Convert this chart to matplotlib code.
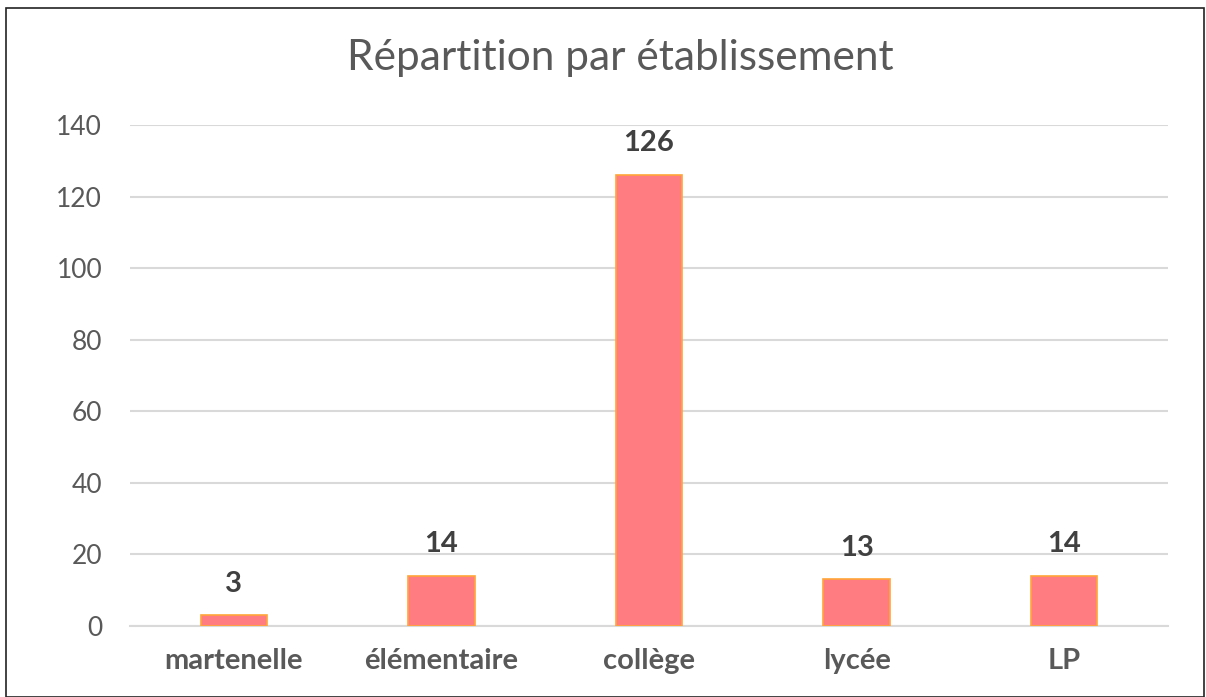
import matplotlib
matplotlib.use("Agg")
import matplotlib.pyplot as plt
from matplotlib.patches import Rectangle

categories = ["martenelle", "élémentaire", "collège", "lycée", "LP"]
values = [3, 14, 126, 13, 14]
yticks = [0, 20, 40, 60, 80, 100, 120, 140]

plt.rcParams["font.family"] = ["Lato", "DejaVu Sans"]

fig = plt.figure(figsize=(12.06, 6.97), dpi=100)
ax = fig.add_axes([0.1078, 0.1019, 0.8607, 0.7188])

x = range(len(categories))
bars = ax.bar(x, values, width=0.32, color="#FF7C80", edgecolor="#FFA53A", linewidth=1.2, zorder=3)
for xi, v in zip(x, values):
    ax.text(xi, v + 5.2, str(v), ha="center", va="bottom", fontsize=21, fontweight="bold", color="#404040")

ax.set_xlim(-0.5, len(categories) - 0.5)
ax.set_ylim(0, 140)
ax.set_yticks(yticks)
ax.set_yticklabels([str(t) for t in yticks], fontsize=19, color="#595959")
ax.set_xticks(list(x))
ax.set_xticklabels(categories, fontsize=21, fontweight="bold", color="#595959")
ax.tick_params(axis="both", length=0)
ax.tick_params(axis="y", pad=20)
ax.tick_params(axis="x", pad=16)
ax.grid(axis="y", color="#D9D9D9", linewidth=1.5, zorder=0)
for s in ["top", "right", "left"]:
    ax.spines[s].set_visible(False)
ax.spines["bottom"].set_color("#D9D9D9")
ax.spines["bottom"].set_linewidth(1.5)

fig.text(0.514, 0.917, "Répartition par établissement", ha="center", va="center", fontsize=30.5, color="#595959")

fig.patches.append(Rectangle((0.005, 0.0), 0.993, 0.988, transform=fig.transFigure,
                             fill=False, edgecolor="#222222", linewidth=1.2))

fig.savefig("out.png", dpi=100)
